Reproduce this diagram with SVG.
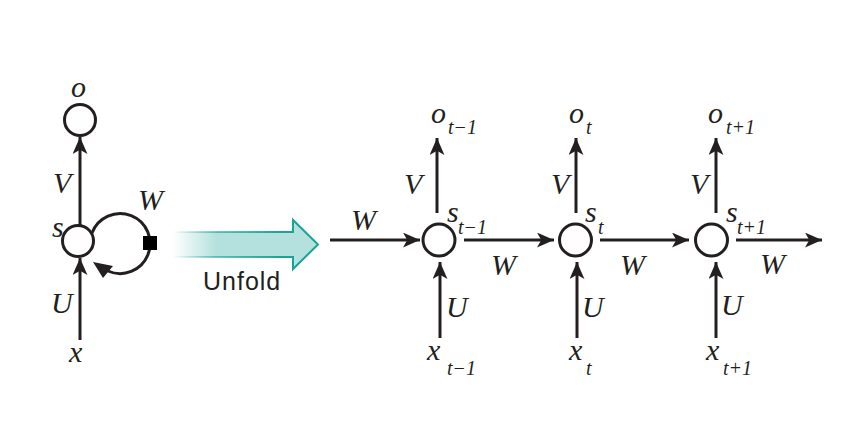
<svg xmlns="http://www.w3.org/2000/svg" width="843" height="433" viewBox="0 0 843 433">
<style>
.node{fill:#fff;stroke:#231f20;stroke-width:3}
.c{stroke:#231f20;stroke-width:3;fill:none}
.a{marker-end:url(#ah)}
.m{font-family:"Liberation Serif","Times New Roman",serif;font-style:italic;font-size:30px;fill:#231f20}
.sub{font-family:"Liberation Serif","Times New Roman",serif;font-style:italic;font-size:20px;fill:#231f20}
.lbl{font-family:"Liberation Sans",Arial,sans-serif;font-size:25px;fill:#231f20;letter-spacing:1px}
</style>
<defs>
<marker id="ah" viewBox="0 0 16 14" refX="16" refY="7" markerWidth="17" markerHeight="15" markerUnits="userSpaceOnUse" orient="auto">
<path d="M0,0 L16,7 L0,14 L4,7 z" fill="#231f20"/>
</marker>
<linearGradient id="uf" gradientUnits="userSpaceOnUse" x1="173" y1="0" x2="318" y2="0">
<stop offset="0" stop-color="#ffffff"/>
<stop offset="0.3" stop-color="#b4e1dd"/>
<stop offset="1" stop-color="#b4e1dd"/>
</linearGradient>
<linearGradient id="us" gradientUnits="userSpaceOnUse" x1="173" y1="0" x2="318" y2="0">
<stop offset="0" stop-color="#16a597" stop-opacity="0"/>
<stop offset="0.3" stop-color="#16a597" stop-opacity="0.6"/>
<stop offset="0.75" stop-color="#16a597" stop-opacity="1"/>
</linearGradient>
</defs>
<rect width="843" height="433" fill="#fff"/>

<g id="connectors">
<line class="c a" x1="80" y1="227" x2="80" y2="137"/>
<line class="c a" x1="80" y1="340" x2="80" y2="258"/>
<path class="c" d="M92,233 A30,30 0 1 1 108,271"/>
<polygon points="93,262 113,266 103,278" fill="#231f20"/>
<line class="c a" x1="330" y1="240" x2="420" y2="240"/>
<line class="c a" x1="464" y1="240" x2="554" y2="240"/>
<line class="c a" x1="600" y1="240" x2="689" y2="240"/>
<line class="c a" x1="736" y1="240" x2="822" y2="240"/>
<line class="c a" x1="437" y1="213" x2="437" y2="138"/>
<line class="c a" x1="576" y1="213" x2="576" y2="138"/>
<line class="c a" x1="716" y1="213" x2="716" y2="138"/>
<line class="c a" x1="440" y1="338" x2="440" y2="262"/>
<line class="c a" x1="577" y1="338" x2="577" y2="262"/>
<line class="c a" x1="716" y1="338" x2="716" y2="262"/>
</g>

<g id="unfold">
<polygon points="173,232 293,232 293,220 318,244.5 293,269 293,257 173,257" fill="url(#uf)" stroke="url(#us)" stroke-width="2"/>
<text class="lbl" x="203" y="290">Unfold</text>
</g>

<g id="rnn-folded">
<circle class="node" cx="80" cy="120" r="15.5"/>
<circle class="node" cx="78" cy="241" r="15.5"/>
<rect x="143" y="236" width="14" height="14" fill="#000"/>
<text class="m" x="71" y="97">o</text>
<text class="m" x="52" y="237">s</text>
<text class="m" x="53" y="193">V</text>
<text class="m" x="51" y="313">U</text>
<text class="m" x="69" y="362">x</text>
<text class="m" x="138" y="210">W</text>
</g>

<g id="node-t-1">
<circle class="node" cx="439" cy="240" r="16"/>
<text class="m" x="431" y="123">o</text><text class="sub" x="448" y="134">t−1</text>
<text class="m" x="404" y="194">V</text>
<text class="m" x="447" y="222">s</text><text class="sub" x="458" y="234">t−1</text>
<text class="m" x="446" y="317">U</text>
<text class="m" x="427" y="360">x</text><text class="sub" x="447" y="375">t−1</text>
<text class="m" x="351" y="230">W</text>
<text class="m" x="491" y="275">W</text>
</g>

<g id="node-t">
<circle class="node" cx="575.5" cy="240" r="16"/>
<text class="m" x="569" y="123">o</text><text class="sub" x="586" y="134">t</text>
<text class="m" x="551" y="194">V</text>
<text class="m" x="585" y="222">s</text><text class="sub" x="598" y="234">t</text>
<text class="m" x="582" y="317">U</text>
<text class="m" x="569" y="360">x</text><text class="sub" x="586" y="375">t</text>
<text class="m" x="620" y="275">W</text>
</g>

<g id="node-t1">
<circle class="node" cx="711.5" cy="240" r="16"/>
<text class="m" x="708" y="123">o</text><text class="sub" x="726" y="134">t+1</text>
<text class="m" x="690" y="194">V</text>
<text class="m" x="726" y="222">s</text><text class="sub" x="737" y="234">t+1</text>
<text class="m" x="721" y="315">U</text>
<text class="m" x="706" y="360">x</text><text class="sub" x="723" y="375">t+1</text>
<text class="m" x="760" y="274">W</text>
</g>
</svg>
